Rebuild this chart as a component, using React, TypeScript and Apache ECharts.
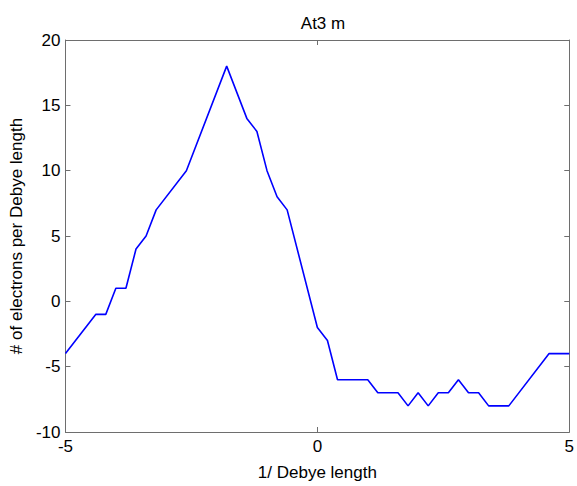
import React, { useEffect, useRef } from "react";
import * as echarts from "echarts";

const xValues = [-5, -4.4, -4.2, -4.0, -3.8, -3.6, -3.4, -3.2, -2.6, -1.8, -1.4, -1.2, -1.0, -0.8, -0.6, 0.0, 0.2, 0.4, 1.0, 1.2, 1.6, 1.8, 2.0, 2.2, 2.4, 2.6, 2.8, 3.0, 3.2, 3.4, 3.8, 4.6, 5.0];
const yValues = [-4, -1, -1, 1, 1, 4, 5, 7, 10, 18, 14, 13, 10, 8, 7, -2, -3, -6, -6, -7, -7, -8, -7, -8, -7, -7, -6, -7, -7, -8, -8, -4, -4];
const titleText = "At3 m";
const xName = "1/ Debye length";
const yName = "# of electrons per Debye length";

export default function App() {
  const ref = useRef<HTMLDivElement>(null);
  useEffect(() => {
    const chart = echarts.init(ref.current!, null, { renderer: "svg" });
    const font = "'Liberation Sans', Arial, sans-serif";
    const axisColor = "#6e6e6e";
    const baseAxis = {
      axisLine: { show: true, onZero: false, lineStyle: { color: axisColor, width: 1 } },
      axisTick: { show: true, inside: true, length: 5, lineStyle: { color: axisColor } },
      splitLine: { show: false },
    };
    chart.setOption({
      animation: false,
      title: {
        text: titleText,
        left: 318,
        textAlign: "center",
        top: 10,
        textStyle: { fontFamily: font, fontSize: 17, fontWeight: "normal", color: "#000" },
      },
      grid: { left: 65, right: 5, top: 40, bottom: 46, containLabel: false },
      xAxis: [
        {
          ...baseAxis,
          type: "value",
          min: -5,
          max: 5,
          interval: 5,
          position: "bottom",
          name: xName,
          nameLocation: "middle",
          nameGap: 32,
          nameTextStyle: { fontFamily: font, fontSize: 17, color: "#000" },
          axisLabel: { fontFamily: font, fontSize: 17, color: "#000", margin: 6 },
        },
        {
          ...baseAxis,
          type: "value",
          min: -5,
          max: 5,
          interval: 5,
          position: "top",
          axisLabel: { show: false },
        },
      ],
      yAxis: [
        {
          ...baseAxis,
          type: "value",
          min: -10,
          max: 20,
          interval: 5,
          position: "left",
          name: yName,
          nameLocation: "middle",
          nameGap: 40,
          nameTextStyle: { fontFamily: font, fontSize: 17, color: "#000" },
          axisLabel: { fontFamily: font, fontSize: 17, color: "#000", margin: 5 },
        },
        {
          ...baseAxis,
          type: "value",
          min: -10,
          max: 20,
          interval: 5,
          position: "right",
          axisLabel: { show: false },
        },
      ],
      series: [
        {
          type: "line",
          data: xValues.map((x, i) => [x, yValues[i]]),
          showSymbol: false,
          lineStyle: { color: "#0000ff", width: 1.6 },
          xAxisIndex: 0,
          yAxisIndex: 0,
        },
      ],
    });
    return () => chart.dispose();
  }, []);
  return <div ref={ref} style={{ width: 577, height: 486, position: "absolute", left: 0, top: 0 }} />;
}
